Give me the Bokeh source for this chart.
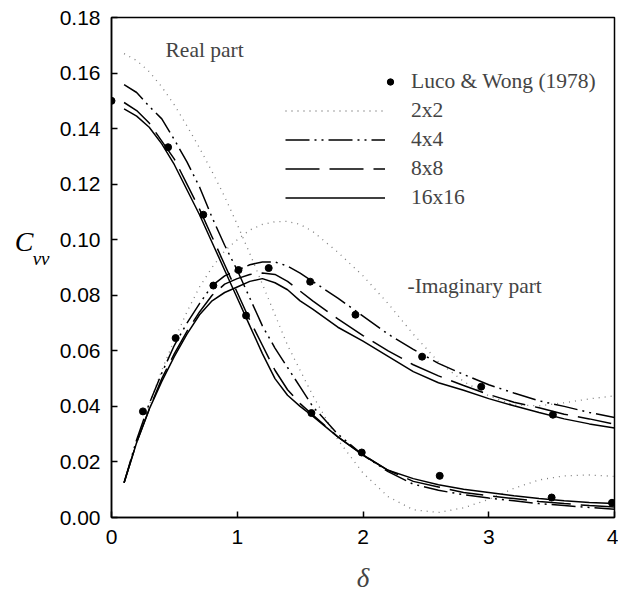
from bokeh.plotting import figure
from bokeh.models import (Legend, LegendItem, Label, FixedTicker, NumeralTickFormatter, Range1d,
                          LinearAxis)
from bokeh.embed import file_html
from bokeh.resources import INLINE

# ---------------- data ----------------
delta = [0.1, 0.2, 0.3, 0.4, 0.5, 0.6, 0.7, 0.8, 0.9, 1.0, 1.1, 1.2, 1.3, 1.4, 1.5, 1.6,
         1.8, 2.0, 2.2, 2.4, 2.6, 2.8, 3.0, 3.2, 3.4, 3.6, 3.8, 4.0]

real_2x2 = [0.167, 0.1645, 0.1605, 0.155, 0.1485, 0.141, 0.133, 0.1245, 0.1155, 0.1055, 0.095, 0.084,
            0.073, 0.062, 0.053, 0.044, 0.028, 0.016, 0.0075, 0.0028, 0.0018, 0.0035, 0.0065, 0.0105,
            0.0135, 0.015, 0.0153, 0.0148]
real_4x4 = [0.1558, 0.153, 0.148, 0.1435, 0.136, 0.128, 0.119, 0.108, 0.098, 0.089, 0.079, 0.069,
            0.061, 0.054, 0.047, 0.040, 0.030, 0.0225, 0.0165, 0.012, 0.0098, 0.0082, 0.007, 0.006,
            0.005, 0.0043, 0.0036, 0.003]
real_8x8 = [0.1494, 0.1465, 0.142, 0.1355, 0.129, 0.120, 0.111, 0.101, 0.091, 0.081, 0.071, 0.062,
            0.053, 0.046, 0.041, 0.037, 0.029, 0.0225, 0.017, 0.013, 0.011, 0.009, 0.0078, 0.0068,
            0.0058, 0.005, 0.0043, 0.0038]
real_16x16 = [0.1471, 0.1445, 0.1405, 0.1345, 0.127, 0.118, 0.109, 0.099, 0.089, 0.079, 0.069, 0.059,
              0.050, 0.044, 0.040, 0.0365, 0.029, 0.0225, 0.017, 0.014, 0.0118, 0.0102, 0.009, 0.0078,
              0.0068, 0.006, 0.0054, 0.005]

imag_2x2 = [0.0125, 0.027, 0.0405, 0.053, 0.064, 0.074, 0.083, 0.090, 0.096, 0.100, 0.1035, 0.1055,
            0.1065, 0.1066, 0.1055, 0.103, 0.0955, 0.087, 0.077, 0.066, 0.056, 0.049, 0.0438, 0.0405,
            0.0402, 0.0413, 0.0427, 0.0438]
imag_4x4 = [0.0125, 0.028, 0.041, 0.052, 0.062, 0.070, 0.077, 0.0835, 0.087, 0.089, 0.091, 0.092,
            0.092, 0.0905, 0.088, 0.085, 0.079, 0.0725, 0.066, 0.0605, 0.0555, 0.0515, 0.0478, 0.0448,
            0.042, 0.040, 0.0378, 0.036]
imag_8x8 = [0.0125, 0.027, 0.039, 0.050, 0.059, 0.067, 0.074, 0.080, 0.084, 0.086, 0.0875, 0.088,
            0.0875, 0.085, 0.0815, 0.078, 0.0715, 0.0655, 0.060, 0.055, 0.051, 0.0475, 0.0443, 0.0415,
            0.0395, 0.0372, 0.0355, 0.0336]
imag_16x16 = [0.0125, 0.027, 0.039, 0.049, 0.058, 0.066, 0.073, 0.078, 0.081, 0.083, 0.085, 0.086,
              0.0845, 0.082, 0.078, 0.075, 0.0685, 0.0635, 0.058, 0.0525, 0.0485, 0.0458, 0.0428, 0.0402,
              0.0378, 0.0355, 0.0337, 0.0322]

luco_real_x = [0.0, 0.45, 0.73, 1.07, 1.59, 1.99, 2.61, 3.5, 3.98]
luco_real_y = [0.150, 0.1333, 0.109, 0.0727, 0.0376, 0.0234, 0.0150, 0.0072, 0.0053]
luco_imag_x = [0.25, 0.51, 0.81, 1.01, 1.25, 1.58, 1.94, 2.47, 2.94, 3.51]
luco_imag_y = [0.0382, 0.0646, 0.0835, 0.0891, 0.0898, 0.0849, 0.0730, 0.0579, 0.0471, 0.0370]

x_ticks = [0, 1, 2, 3, 4]
y_ticks = [0.00, 0.02, 0.04, 0.06, 0.08, 0.10, 0.12, 0.14, 0.16, 0.18]

series_names = ["2x2", "4x4", "8x8", "16x16"]

# ---------------- figure ----------------
SERIF = "Liberation Serif"
SANS = "Liberation Sans"

p = figure(width=618, height=608, frame_width=503, frame_height=500,
           x_range=Range1d(0, 4), y_range=Range1d(0, 0.18),
           output_backend="svg", toolbar_location=None,
           min_border_left=111, min_border_right=4, min_border_top=17, min_border_bottom=91)
p.grid.visible = False
p.outline_line_color = "black"
p.outline_line_width = 1.5
p.background_fill_color = "white"
p.border_fill_color = "white"

styles = {
    "2x2": dict(line_color="#7f7f7f", line_width=1.3, line_dash="1 5"),
    "4x4": dict(line_color="black", line_width=1.5, line_dash="24 5 2 5 2 5"),
    "8x8": dict(line_color="black", line_width=1.5, line_dash="34 10"),
    "16x16": dict(line_color="black", line_width=1.5),
}
reals = {"2x2": real_2x2, "4x4": real_4x4, "8x8": real_8x8, "16x16": real_16x16}
imags = {"2x2": imag_2x2, "4x4": imag_4x4, "8x8": imag_8x8, "16x16": imag_16x16}

line_renderers = {}
for name in series_names:
    r = p.line(delta, reals[name], **styles[name])
    p.line(delta, imags[name], **styles[name])
    line_renderers[name] = r

dots = p.scatter(luco_real_x, luco_real_y, size=7, color="black")
p.scatter(luco_imag_x, luco_imag_y, size=7, color="black")

# axes
for ax in (p.xaxis[0], p.yaxis[0]):
    ax.major_tick_in = 6
    ax.major_tick_out = 0
    ax.minor_tick_line_color = None
    ax.axis_line_width = 1.5
    ax.major_tick_line_width = 1.5
    ax.major_label_text_font = SANS
    ax.major_label_text_font_size = "21px"
    ax.major_label_text_color = "black"

p.xaxis.ticker = FixedTicker(ticks=x_ticks)
p.xaxis.formatter = NumeralTickFormatter(format="0")
p.xaxis.major_label_standoff = 12
p.xaxis.axis_label = "δ"
p.xaxis.axis_label_text_font = SERIF
p.xaxis.axis_label_text_font_style = "italic"
p.xaxis.axis_label_text_font_size = "27px"
p.xaxis.axis_label_standoff = 16

p.yaxis.ticker = FixedTicker(ticks=y_ticks)
p.yaxis.formatter = NumeralTickFormatter(format="0.00")
p.yaxis.major_label_standoff = 11

# y label C_vv, drawn as text of two blank extra axes so it may sit outside the frame
Y_SUB = 0.0934
Y_C = 0.0993


def label_axis(pos, text, size, standoff):
    ax = LinearAxis(ticker=FixedTicker(ticks=[pos]), major_label_overrides={pos: text},
                    axis_line_color=None, major_tick_line_color=None, minor_tick_line_color=None,
                    major_tick_in=0, major_tick_out=0, major_label_standoff=standoff,
                    major_label_text_font=SERIF, major_label_text_font_style="italic",
                    major_label_text_font_size=size, major_label_text_color="black")
    p.add_layout(ax, "left")


label_axis(Y_SUB, "vv", "19px", 7)
label_axis(Y_C, "C", "28px", -4)

# annotations
p.add_layout(Label(x=54, y=468, x_units="screen", y_units="screen", text="Real part",
                   text_font=SERIF, text_font_size="21.5px", text_baseline="middle"))
p.add_layout(Label(x=296, y=232, x_units="screen", y_units="screen", text="-Imaginary part",
                   text_font=SERIF, text_font_size="21.5px", text_baseline="middle"))

common = dict(label_text_font=SERIF, label_text_font_size="21.5px",
              glyph_height=29, label_height=29, spacing=0, padding=0, margin=0,
              border_line_alpha=0, background_fill_alpha=0)

leg_a = Legend(items=[LegendItem(label="Luco & Wong (1978)", renderers=[dots])],
               location=(271, 421), glyph_width=16, label_standoff=13, **common)
leg_b = Legend(items=[LegendItem(label=n, renderers=[line_renderers[n]]) for n in series_names],
               location=(174, 305), glyph_width=100, label_standoff=26, **common)
p.add_layout(leg_a)
p.add_layout(leg_b)

open("out.html", "w").write(file_html(p, INLINE))
